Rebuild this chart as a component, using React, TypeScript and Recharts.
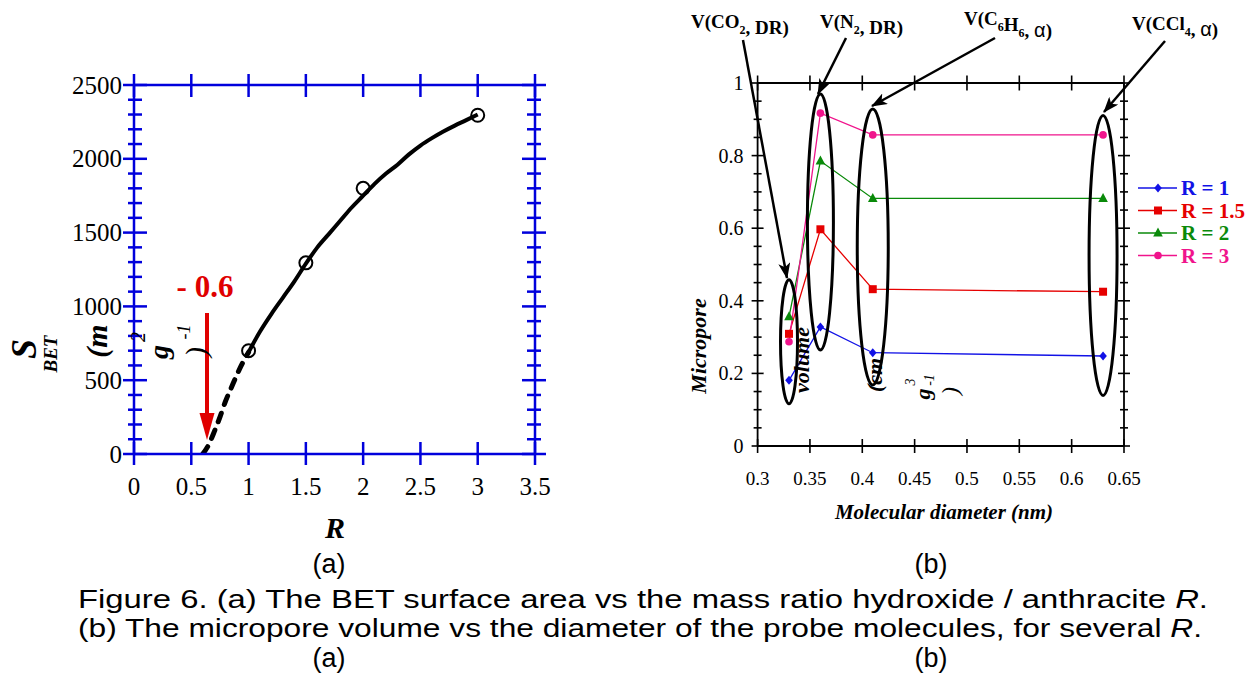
import React from "react";
import { ComposedChart, LineChart, Line, Scatter, XAxis, YAxis, ReferenceDot } from "recharts";

// (a) BET surface area vs mass ratio R
const dashedR = [0.6, 0.65, 0.7, 0.75, 0.8, 0.85, 0.9, 0.95, 1.0];
const dashedS = [0, 60, 150, 250, 360, 450, 540, 620, 690];
const solidR = [1.0, 1.1, 1.2, 1.3, 1.4, 1.5, 1.6, 1.7, 1.8, 1.9, 2.0, 2.1, 2.2, 2.3, 2.4, 2.5, 2.6, 2.7, 2.8, 2.9, 3.0];
const solidS = [690, 830, 950, 1060, 1170, 1290, 1400, 1490, 1580, 1670, 1750, 1830, 1900, 1960, 2030, 2090, 2140, 2185, 2225, 2262, 2300];
const measuredR = [1, 1.5, 2, 3];
const measuredS = [700, 1295, 1800, 2295];
const rTicks = [0, 0.5, 1, 1.5, 2, 2.5, 3, 3.5];
const sTicks = [0, 100, 200, 300, 400, 500, 600, 700, 800, 900, 1000, 1100, 1200, 1300, 1400, 1500, 1600, 1700, 1800, 1900, 2000, 2100, 2200, 2300, 2400, 2500];
const sLabels = [0, 500, 1000, 1500, 2000, 2500];

// (b) micropore volume vs probe molecule diameter
const diameters = [0.33, 0.36, 0.41, 0.63];
const seriesNames = ["R = 1", "R = 1.5", "R = 2", "R = 3"];
const volR1 = [0.181, 0.328, 0.257, 0.248];
const volR15 = [0.309, 0.597, 0.432, 0.425];
const volR2 = [0.356, 0.785, 0.682, 0.682];
const volR3 = [0.287, 0.917, 0.857, 0.857];
const groupCentre = [0.287, 0.617, 0.548, 0.525];
const dTicks = [0.3, 0.35, 0.4, 0.45, 0.5, 0.55, 0.6, 0.65];
const vTicks = [0, 0.05, 0.1, 0.15, 0.2, 0.25, 0.3, 0.35, 0.4, 0.45, 0.5, 0.55, 0.6, 0.65, 0.7, 0.75, 0.8, 0.85, 0.9, 0.95, 1];
const vLabels = [0, 0.2, 0.4, 0.6, 0.8, 1];

const dashedData = dashedR.map((r, i) => ({ r, s: dashedS[i] }));
const solidData = solidR.map((r, i) => ({ r, s: solidS[i] }));
const measuredData = measuredR.map((r, i) => ({ r, s: measuredS[i] }));
const volData = diameters.map((d, i) => ({ d, r1: volR1[i], r15: volR15[i], r2: volR2[i], r3: volR3[i] }));

const SERIF = "'Liberation Serif', 'Times New Roman', serif";
const SANS = "'Liberation Sans', Arial, sans-serif";
const BLUE = "#0000dc";
const RED = "#e00000";

const SERIES = [
  { key: "r1", name: seriesNames[0], color: "#1212e6", marker: "diamond" },
  { key: "r15", name: seriesNames[1], color: "#e60000", marker: "square" },
  { key: "r2", name: seriesNames[2], color: "#0a8a0a", marker: "triangle" },
  { key: "r3", name: seriesNames[3], color: "#f0148c", marker: "circle" },
];

// pixel half-sizes of the ovals drawn round each probe molecule
const OVALS = [
  { rx: 8.5, ry: 62 },
  { rx: 13, ry: 128 },
  { rx: 15.5, ry: 138 },
  { rx: 14, ry: 140 },
];

const Marker = ({ kind, cx, cy, color }: any) => {
  if (kind === "diamond")
    return <polygon points={`${cx},${cy - 4.5} ${cx + 3.8},${cy} ${cx},${cy + 4.5} ${cx - 3.8},${cy}`} fill={color} />;
  if (kind === "square") return <rect x={cx - 4} y={cy - 4} width={8} height={8} fill={color} />;
  if (kind === "triangle")
    return <polygon points={`${cx},${cy - 5.5} ${cx + 4.8},${cy + 3.5} ${cx - 4.8},${cy + 3.5}`} fill={color} />;
  return <circle cx={cx} cy={cy} r={3.8} fill={color} />;
};

const near = (v: number, list: number[]) => list.some((t) => Math.abs(t - v) < 1e-6);

// ---- tick renderers (tickSize/tickMargin 0, so x,y sit on the axis line) ----
const LeftSTick = ({ x, y, payload }: any) => {
  const major = near(payload.value, sLabels);
  return (
    <g>
      <line x1={x - (major ? 11 : 6)} x2={x + (major ? 13 : 8)} y1={y} y2={y} stroke={BLUE} strokeWidth={2.5} />
      {major && (
        <text x={x - 12} y={y} textAnchor="end" dominantBaseline="central" fontFamily={SERIF} fontSize={25} fill="#000">
          {payload.value}
        </text>
      )}
    </g>
  );
};
const RightSTick = ({ x, y, payload }: any) => {
  const major = near(payload.value, sLabels);
  return <line x1={x - (major ? 13 : 8)} x2={x + (major ? 11 : 6)} y1={y} y2={y} stroke={BLUE} strokeWidth={2.5} />;
};
const BottomRTick = ({ x, y, payload }: any) => (
  <g>
    <line x1={x} x2={x} y1={y - 12} y2={y + 11} stroke={BLUE} strokeWidth={2.5} />
    <text x={x} y={y + 32} textAnchor="middle" dominantBaseline="central" fontFamily={SERIF} fontSize={25} fill="#000">
      {payload.value}
    </text>
  </g>
);
const TopRTick = ({ x, y }: any) => <line x1={x} x2={x} y1={y - 11} y2={y + 12} stroke={BLUE} strokeWidth={2.5} />;

const LeftVTick = ({ x, y, payload }: any) => {
  const major = near(payload.value, vLabels);
  return (
    <g>
      <line x1={x - (major ? 6 : 4)} x2={x + (major ? 6 : 4)} y1={y} y2={y} stroke="#000" strokeWidth={1.6} />
      {major && (
        <text x={x - 14} y={y} textAnchor="end" dominantBaseline="central" fontFamily={SERIF} fontSize={20} fill="#000">
          {payload.value}
        </text>
      )}
    </g>
  );
};
const RightVTick = ({ x, y, payload }: any) => {
  const major = near(payload.value, vLabels);
  return <line x1={x - (major ? 6 : 4)} x2={x + (major ? 6 : 4)} y1={y} y2={y} stroke="#000" strokeWidth={1.6} />;
};
const BottomDTick = ({ x, y, payload }: any) => (
  <g>
    <line x1={x} x2={x} y1={y - 7} y2={y + 7} stroke="#000" strokeWidth={1.6} />
    <text x={x} y={y + 32} textAnchor="middle" dominantBaseline="central" fontFamily={SERIF} fontSize={19} fill="#000">
      {payload.value}
    </text>
  </g>
);
const TopDTick = ({ x, y }: any) => <line x1={x} x2={x} y1={y - 7.5} y2={y + 7.5} stroke="#000" strokeWidth={1.6} />;

const Rot = ({ x, y, size, children, italic = true, bold = true }: any) => (
  <text
    x={x}
    y={y}
    transform={`rotate(-90 ${x} ${y})`}
    textAnchor="middle"
    dominantBaseline="central"
    fontFamily={SERIF}
    fontSize={size}
    fontWeight={bold ? "bold" : "normal"}
    fontStyle={italic ? "italic" : "normal"}
    fill="#000"
  >
    {children}
  </text>
);

const LabelText = ({ x, y, children }: any) => (
  <text x={x} y={y} fontFamily={SERIF} fontSize={19} fontWeight="bold" fill="#000">
    {children}
  </text>
);
const Sub = ({ children }: any) => (
  <tspan fontSize={12} dy={6}>
    {children}
  </tspan>
);
const Up = () => <tspan dy={-6} />;
const Alpha = () => (
  <tspan fontFamily={SANS} fontWeight="normal" fontSize={20}>
    α
  </tspan>
);

export default function App() {
  return (
    <div style={{ position: "absolute", left: 0, top: 0, width: 1257, height: 692, background: "#fff" }}>
      {/* (a) */}
      <div style={{ position: "absolute", left: 0, top: 0 }}>
        <ComposedChart width={600} height={560} margin={{ top: 84, left: 133, right: 64, bottom: 105 }}>
          <XAxis dataKey="r" type="number" domain={[0, 3.5]} ticks={rTicks} interval={0} allowDataOverflow height={1}
            tickSize={0} tickMargin={0} tickLine={false} axisLine={{ stroke: BLUE, strokeWidth: 2.5 }} tick={(p: any) => <BottomRTick {...p} />} />
          <XAxis xAxisId="top" orientation="top" dataKey="r" type="number" domain={[0, 3.5]} ticks={rTicks} interval={0} allowDataOverflow height={1}
            tickSize={0} tickMargin={0} tickLine={false} axisLine={{ stroke: BLUE, strokeWidth: 2.5 }} tick={(p: any) => <TopRTick {...p} />} />
          <YAxis type="number" domain={[0, 2500]} ticks={sTicks} interval={0} allowDataOverflow width={1}
            tickSize={0} tickMargin={0} tickLine={false} axisLine={{ stroke: BLUE, strokeWidth: 2.5 }} tick={(p: any) => <LeftSTick {...p} />} />
          <YAxis yAxisId="right" orientation="right" type="number" domain={[0, 2500]} ticks={sTicks} interval={0} allowDataOverflow width={1}
            tickSize={0} tickMargin={0} tickLine={false} axisLine={{ stroke: BLUE, strokeWidth: 2.5 }} tick={(p: any) => <RightSTick {...p} />} />
          <Line data={dashedData} dataKey="s" type="monotone" stroke="#000" strokeWidth={5} strokeDasharray="9 9"
            strokeLinecap="round" dot={false} isAnimationActive={false} />
          <Line data={solidData} dataKey="s" type="monotone" stroke="#000" strokeWidth={4} dot={false} isAnimationActive={false} />
          <Scatter data={measuredData} dataKey="s" isAnimationActive={false}
            shape={(p: any) => <circle cx={p.cx} cy={p.cy} r={6.5} fill="none" stroke="#000" strokeWidth={2} />} />
        </ComposedChart>
      </div>

      {/* (b) */}
      <div style={{ position: "absolute", left: 680, top: 0 }}>
        <LineChart width={577} height={560} data={volData} margin={{ top: 82, left: 76.6, right: 132, bottom: 113 }}>
          <XAxis dataKey="d" type="number" domain={[0.3, 0.65]} ticks={dTicks} interval={0} allowDataOverflow height={1}
            tickSize={0} tickMargin={0} tickLine={false} axisLine={{ stroke: "#000", strokeWidth: 1.8 }} tick={(p: any) => <BottomDTick {...p} />} />
          <XAxis xAxisId="top" orientation="top" dataKey="d" type="number" domain={[0.3, 0.65]} ticks={dTicks} interval={0} allowDataOverflow height={1}
            tickSize={0} tickMargin={0} tickLine={false} axisLine={{ stroke: "#000", strokeWidth: 1.8 }} tick={(p: any) => <TopDTick {...p} />} />
          <YAxis type="number" domain={[0, 1]} ticks={vTicks} interval={0} allowDataOverflow width={1}
            tickSize={0} tickMargin={0} tickLine={false} axisLine={{ stroke: "#000", strokeWidth: 1.8 }} tick={(p: any) => <LeftVTick {...p} />} />
          <YAxis yAxisId="right" orientation="right" type="number" domain={[0, 1]} ticks={vTicks} interval={0} allowDataOverflow width={1}
            tickSize={0} tickMargin={0} tickLine={false} axisLine={{ stroke: "#000", strokeWidth: 1.8 }} tick={(p: any) => <RightVTick {...p} />} />
          {SERIES.map((s) => (
            <Line key={s.key} dataKey={s.key} name={s.name} type="linear" stroke={s.color} strokeWidth={1.3} isAnimationActive={false}
              dot={(p: any) => <Marker key={`${s.key}-${p.index}`} kind={s.marker} cx={p.cx} cy={p.cy} color={s.color} />} />
          ))}
          {diameters.map((d, i) => (
            <ReferenceDot key={`oval-${i}`} x={d} y={groupCentre[i]} r={1} ifOverflow="visible"
              shape={(p: any) => <ellipse cx={p.cx} cy={p.cy} rx={OVALS[i].rx} ry={OVALS[i].ry} fill="none" stroke="#000" strokeWidth={3} />} />
          ))}
        </LineChart>
      </div>

      {/* annotations, labels, legend and caption */}
      <svg width={1257} height={692} style={{ position: "absolute", left: 0, top: 0, pointerEvents: "none" }}>
        <defs>
          <marker id="ah" markerUnits="userSpaceOnUse" markerWidth={16} markerHeight={12} refX={15} refY={6} orient="auto">
            <path d="M0,0 L16,6 L0,12 L4,6 z" fill="#000" />
          </marker>
        </defs>

        {/* (a) annotations */}
        <text x={205} y={297} textAnchor="middle" fontFamily={SERIF} fontSize={31} fontWeight="bold" fill={RED}>- 0.6</text>
        <line x1={207} y1={313} x2={207} y2={418} stroke={RED} strokeWidth={4} />
        <polygon points="199.5,413 214.5,413 207,440" fill={RED} />
        <Rot x={24} y={349} size={36}>S</Rot>
        <Rot x={50} y={354} size={19}>BET</Rot>
        <Rot x={96} y={341} size={30}>(m</Rot>
        <Rot x={138} y={337} size={20} bold={false}>2</Rot>
        <Rot x={158} y={352} size={28}>g</Rot>
        <Rot x={184} y={332} size={18} bold={false}>-1</Rot>
        <Rot x={195} y={352} size={30} bold={false}>)</Rot>
        <text x={335} y={538} textAnchor="middle" fontFamily={SERIF} fontSize={30} fontWeight="bold" fontStyle="italic" fill="#000">R</text>

        {/* (b) probe labels and arrows */}
        <LabelText x={691} y={28}>V(CO<Sub>2</Sub><Up />, DR)</LabelText>
        <LabelText x={820} y={28}>V(N<Sub>2</Sub><Up />, DR)</LabelText>
        <LabelText x={964} y={25}>V(C<Sub>6</Sub><Up />H<Sub>6</Sub><Up />, <Alpha />)</LabelText>
        <LabelText x={1132} y={30}>V(CCl<Sub>4</Sub><Up />, <Alpha />)</LabelText>
        <line x1={743} y1={40} x2={787} y2={278} stroke="#000" strokeWidth={2.5} markerEnd="url(#ah)" />
        <line x1={846} y1={38} x2={818} y2={94} stroke="#000" strokeWidth={2.5} markerEnd="url(#ah)" />
        <line x1={995} y1={38} x2={872} y2={106} stroke="#000" strokeWidth={2.5} markerEnd="url(#ah)" />
        <line x1={1165} y1={41} x2={1104} y2={112} stroke="#000" strokeWidth={2.5} markerEnd="url(#ah)" />

        <Rot x={698} y={346} size={22}>Micropore</Rot>
        <Rot x={801} y={360} size={22}>volume</Rot>
        <Rot x={874} y={375} size={22}>(cm</Rot>
        <Rot x={910} y={382} size={14} bold={false}>3</Rot>
        <Rot x={922} y={394} size={22}>g</Rot>
        <Rot x={929} y={380} size={14} bold={false}>-1</Rot>
        <Rot x={950} y={391} size={24} bold={false}>)</Rot>
        <text x={944} y={519} textAnchor="middle" fontFamily={SERIF} fontSize={21} fontWeight="bold" fontStyle="italic" fill="#000">
          Molecular diameter (nm)
        </text>

        {/* legend */}
        {SERIES.map((s, i) => {
          const cy = 188 + i * 22.5;
          return (
            <g key={s.key}>
              <line x1={1138} x2={1177} y1={cy} y2={cy} stroke={s.color} strokeWidth={1.4} />
              <Marker kind={s.marker} cx={1158} cy={cy} color={s.color} />
              <text x={1181} y={cy} dominantBaseline="central" fontFamily={SERIF} fontSize={21} fontWeight="bold" fill={s.color}>
                {s.name}
              </text>
            </g>
          );
        })}

        {/* caption */}
        <text x={329} y={573} textAnchor="middle" fontFamily={SANS} fontSize={27} fill="#000">(a)</text>
        <text x={931} y={573} textAnchor="middle" fontFamily={SANS} fontSize={27} fill="#000">(b)</text>
        <text x={78} y={608} fontFamily={SANS} fontSize={26} fill="#000" textLength={1130} lengthAdjust="spacingAndGlyphs">
          Figure 6. (a) The BET surface area vs the mass ratio hydroxide / anthracite <tspan fontStyle="italic">R</tspan>.
        </text>
        <text x={78} y={637} fontFamily={SANS} fontSize={26} fill="#000" textLength={1124} lengthAdjust="spacingAndGlyphs">
          (b) The micropore volume vs the diameter of the probe molecules, for several <tspan fontStyle="italic">R</tspan>.
        </text>
        <text x={329} y={667} textAnchor="middle" fontFamily={SANS} fontSize={27} fill="#000">(a)</text>
        <text x={931} y={667} textAnchor="middle" fontFamily={SANS} fontSize={27} fill="#000">(b)</text>
      </svg>
    </div>
  );
}
